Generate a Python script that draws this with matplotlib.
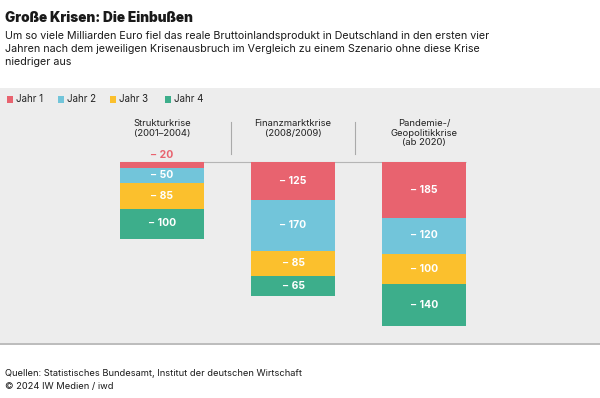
import matplotlib
matplotlib.use("Agg")
import matplotlib.pyplot as plt
from matplotlib.patches import Rectangle
import numpy as np

# data: losses in bn euro per crisis, years 1-4
crises = ["Strukturkrise\n(2001\u20132004)", "Finanzmarktkrise\n(2008/2009)",
          "Pandemie-/\nGeopolitikkrise\n(ab 2020)"]
jahr1 = [20, 125, 185]
jahr2 = [50, 170, 120]
jahr3 = [85, 85, 100]
jahr4 = [100, 65, 140]
years = ["Jahr 1", "Jahr 2", "Jahr 3", "Jahr 4"]

colors = ["#E8636F", "#72C5DA", "#FBC02D", "#3DAE8B"]
bg = "#EDEDED"
plt.rcParams["font.family"] = ["Inter", "DejaVu Sans"]

W, H = 600, 398
fig = plt.figure(figsize=(W / 100, H / 100), dpi=100)
fig.patch.set_facecolor("white")

def fx(px):
    return px / W

def fy(py):
    return 1 - py / H

# gray panel + bottom rule
fig.patches.append(Rectangle((0, fy(343)), 1, fy(88) - fy(343), transform=fig.transFigure,
                             facecolor=bg, edgecolor="none", zorder=0))
fig.patches.append(Rectangle((0, fy(345)), 1, fy(343) - fy(345), transform=fig.transFigure,
                             facecolor="#BDBDBD", edgecolor="none", zorder=0))

# bar axes: zero line at pixel 162, 0.3 px per unit
top_px, bot_px, zero_px, scale = 88, 343, 162, 0.3
ax = fig.add_axes([0, fy(bot_px), 1, fy(top_px) - fy(bot_px)])
ax.set_zorder(5)
ax.set_facecolor("none")
ax.set_ylim(-(bot_px - zero_px) / scale, (zero_px - top_px) / scale)
step = 131
ax.set_xlim(-162 / step, (W - 162) / step)
ax.axis("off")

x = np.arange(len(crises))
width = 84 / step
data = [jahr1, jahr2, jahr3, jahr4]
bottom = np.zeros(len(crises))
for vals, c, name in zip(data, colors, years):
    v = -np.array(vals, dtype=float)
    ax.bar(x, v, width, bottom=bottom, color=c, label=name, zorder=2)
    for xi, b, val in zip(x, bottom, vals):
        mid = b - val / 2
        if val < 40:
            ax.text(xi, b + 8, "\u2212 %d" % val, ha="center", va="bottom", color=c,
                    fontsize=7.5, fontweight="bold", zorder=3)
        else:
            ax.text(xi, mid, "\u2212 %d" % val, ha="center", va="center", color="white",
                    fontsize=7.5, fontweight="bold", zorder=3)
    bottom = bottom + v

ax.hlines(0, x[0] - width / 2, x[-1] + width / 2, color="#B5B5B5", lw=0.8, zorder=1)

# crisis headers and separators
for xi, name in zip(x, crises):
    ax.text(xi, (zero_px - 119) / scale, name, ha="center", va="top", fontsize=6.8,
            color="#222222", linespacing=1.1)
for xs in [231, 355]:
    fig.lines.append(plt.Line2D([fx(xs), fx(xs)], [fy(122), fy(154)], transform=fig.transFigure,
                                color="#AAAAAA", lw=0.8))

# legend
leg_x = [7, 58, 110, 165]
for lx, c, name in zip(leg_x, colors, years):
    fig.patches.append(Rectangle((fx(lx), fy(102.5)), fx(6), fy(96) - fy(102.5),
                                 transform=fig.transFigure, facecolor=c, edgecolor="none"))
    fig.text(fx(lx + 9), fy(99.5), name, ha="left", va="center", fontsize=7, color="#222222")

# titles
fig.text(fx(5), fy(18), "Gro\u00dfe Krisen: Die Einbu\u00dfen", ha="left", va="center",
         fontsize=9.8, fontweight="black", color="#1a1a1a")
fig.text(fx(5), fy(31), "Um so viele Milliarden Euro fiel das reale Bruttoinlandsprodukt in Deutschland in den ersten vier\n"
         "Jahren nach dem jeweiligen Krisenausbruch im Vergleich zu einem Szenario ohne diese Krise\n"
         "niedriger aus", ha="left", va="top", fontsize=7.7, color="#1a1a1a", linespacing=1.35)

fig.text(fx(5), fy(373), "Quellen: Statistisches Bundesamt, Institut der deutschen Wirtschaft",
         ha="left", va="center", fontsize=6.7, color="#1a1a1a")
fig.text(fx(5), fy(386), "\u00a9 2024 IW Medien / iwd", ha="left", va="center", fontsize=6.7,
         color="#1a1a1a")

fig.savefig("out.png", dpi=100, facecolor="white")
